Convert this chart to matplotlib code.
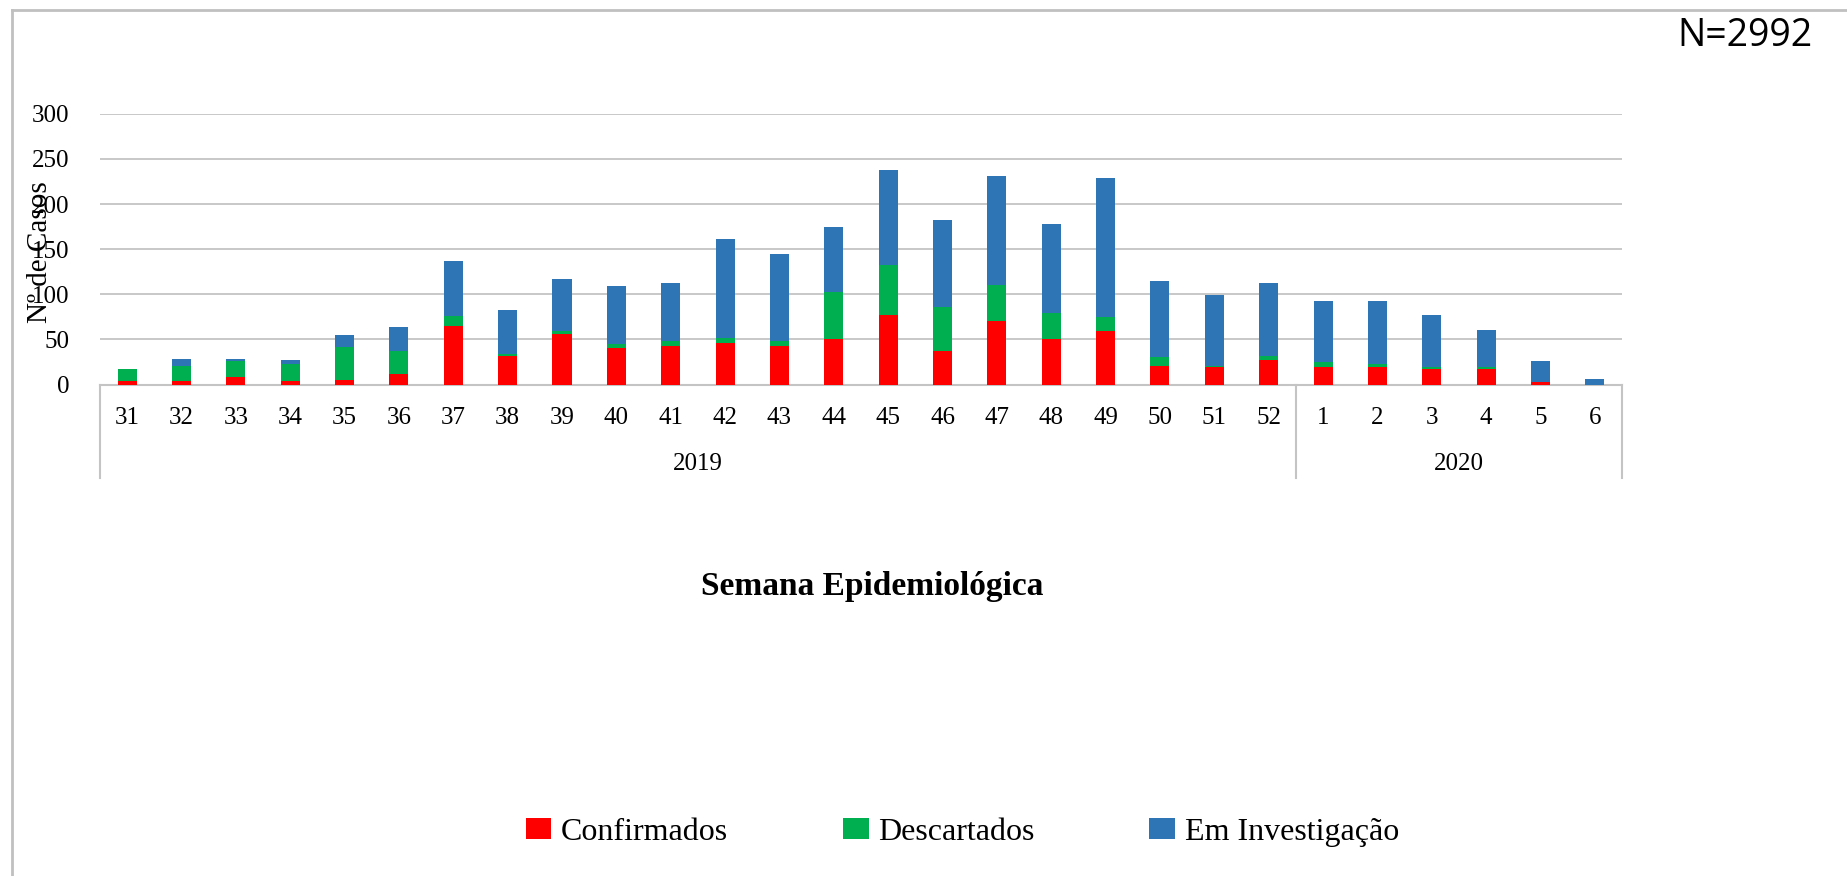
import matplotlib
matplotlib.use("Agg")
import matplotlib.pyplot as plt
from matplotlib.lines import Line2D
import numpy as np

# weeks 31-52 of 2019 and 1-6 of 2020
weeks = ['31', '32', '33', '34', '35', '36', '37', '38', '39', '40', '41', '42',
         '43', '44', '45', '46', '47', '48', '49', '50', '51', '52',
         '1', '2', '3', '4', '5', '6']
years = ['2019', '2020']
weeks_per_year = [22, 6]

confirmados = [4, 4, 8, 4, 5, 12, 65, 32, 56, 41, 43, 46, 43, 51, 77, 37, 70, 51,
               59, 21, 19, 27, 20, 20, 17, 17, 3, 0]
descartados = [13, 17, 18, 19, 37, 25, 11, 2, 3, 4, 5, 6, 5, 52, 56, 49, 40, 28,
               16, 9, 2, 5, 5, 3, 2, 2, 0, 0]
investigacao = [0, 7, 2, 4, 13, 27, 61, 49, 58, 64, 65, 109, 97, 72, 105, 96, 121, 99,
                154, 85, 78, 81, 68, 70, 58, 42, 23, 6]

series_names = ['Confirmados', 'Descartados', 'Em Investigação']
colors = ['#FF0000', '#00B050', '#2E75B6']
grid_color = '#C4C4C4'

plt.rcParams['font.family'] = ['Liberation Serif', 'DejaVu Serif']

fig = plt.figure(figsize=(18.47, 8.76), dpi=100)
ax = fig.add_axes([0.0541, 0.561, 0.8241, 0.309])

x = np.arange(len(weeks))
bottom = np.zeros(len(weeks))
bars = []
for vals, name, col in zip([confirmados, descartados, investigacao], series_names, colors):
    b = ax.bar(x, vals, width=0.35, bottom=bottom, color=col, label=name, zorder=3)
    bars.append(b)
    bottom += np.array(vals)

ax.set_xlim(-0.5, len(weeks) - 0.5)
ax.set_ylim(0, 300)
ax.set_yticks(range(0, 301, 50))
ax.yaxis.grid(True, color=grid_color, linewidth=1.3, zorder=0)
ax.tick_params(axis='y', length=0, labelsize=18, pad=22)
ax.set_xticks([])
for s in ['top', 'right', 'left']:
    ax.spines[s].set_visible(False)
ax.spines['bottom'].set_color(grid_color)
ax.spines['bottom'].set_linewidth(1.5)

# two-level category axis: week numbers, then years with separators
trans = ax.get_xaxis_transform()
for i, w in enumerate(weeks):
    ax.text(i, -0.124, w, transform=trans, ha='center', va='center', fontsize=18)

start = -0.5
bounds = [start]
for yr, n in zip(years, weeks_per_year):
    end = start + n
    ax.text((start + end) / 2, -0.294, yr, transform=trans, ha='center', va='center',
            fontsize=18)
    bounds.append(end)
    start = end
for bx in bounds:
    ax.plot([bx, bx], [0, -0.344], transform=trans, color=grid_color, linewidth=1.5,
            clip_on=False)

fig.text(0.472, 0.330, 'Semana Epidemiológica', ha='center', va='center',
         fontsize=24, fontweight='bold')
# in the original the axis title sits on top of the tick labels
fig.text(0.0217, 0.712, 'Nº de Casos', rotation=90, ha='center', va='center',
         fontsize=21)

fig.legend(handles=bars, labels=series_names, loc='center', ncol=3,
           bbox_to_anchor=(0.521, 0.050), frameon=False, fontsize=23,
           handlelength=0.8, handleheight=0.6, handletextpad=0.3,
           columnspacing=3.6)

fig.text(0.945, 0.959, 'N=2992', ha='center', va='center', fontsize=27,
         family='Open Sans')

# outer border of the original chart area
fig.add_artist(Line2D([12 / 1847, 12 / 1847], [0, 1 - 10 / 876], color='#C0C0C0',
                      linewidth=2, transform=fig.transFigure))
fig.add_artist(Line2D([12 / 1847, 1], [1 - 10 / 876, 1 - 10 / 876], color='#C0C0C0',
                      linewidth=2, transform=fig.transFigure))

fig.savefig('out.png', dpi=100)
